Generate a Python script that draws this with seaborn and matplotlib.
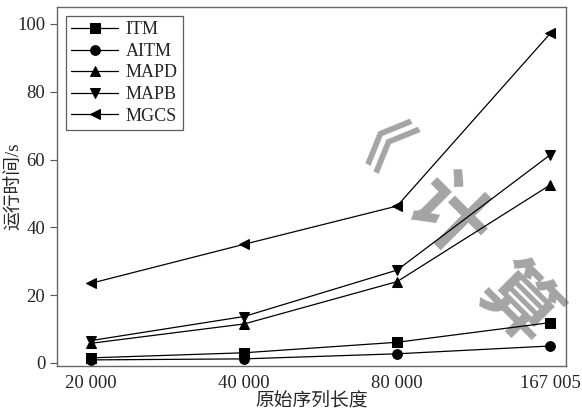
import matplotlib
matplotlib.use("Agg")
import matplotlib.pyplot as plt
import seaborn as sns
import pandas as pd

# sequence lengths (categorical x)
lengths = ["20 000", "40 000", "80 000", "167 005"]
methods = ["ITM", "AITM", "MAPD", "MAPB", "MGCS"]

# running time in seconds
itm = [1.5, 3.0, 6.1, 11.9]
aitm = [0.9, 1.2, 2.7, 5.0]
mapd = [5.8, 11.5, 24.0, 52.5]
mapb = [6.6, 13.7, 27.4, 61.4]
mgcs = [23.5, 35.0, 46.3, 97.2]

rows = []
for name, vals in zip(methods, [itm, aitm, mapd, mapb, mgcs]):
    for i, v in enumerate(vals):
        rows.append({"pos": i, "time": v, "method": name})
df = pd.DataFrame(rows)

sns.set_style("ticks")
plt.rcParams['font.family'] = ['Liberation Serif', 'Noto Sans CJK SC']

fig, ax = plt.subplots(figsize=(5.82, 4.13), dpi=100)
sns.lineplot(data=df, x="pos", y="time", hue="method", style="method",
             hue_order=methods, style_order=methods,
             palette=["black"] * 5, markers=["s", "o", "^", "v", "<"],
             dashes=False, markersize=7, linewidth=0.9,
             markeredgecolor="black", ax=ax)

ax.set_xlim(-0.222, 3.105)
ax.set_ylim(-1, 105)
ax.set_xticks(range(len(lengths)))
ax.set_xticklabels(lengths)
ax.set_yticks([0, 20, 40, 60, 80, 100])
ax.tick_params(axis="x", length=0, labelsize=13.5, pad=6)
ax.tick_params(axis="y", length=5, direction="out", labelsize=13.5, color="#555555")
for s in ax.spines.values():
    s.set_color("#666666")
    s.set_linewidth(1.0)

ax.set_xlabel("原始序列长度", fontsize=13.5, labelpad=1)
ax.set_ylabel("运行时间/s", fontsize=13.5)
ax.yaxis.set_label_coords(-0.066, 0.5)

leg = ax.legend(loc="upper left", fontsize=13, frameon=True, fancybox=False,
                handlelength=2.6, borderpad=0.3, labelspacing=0.25,
                handletextpad=0.4, borderaxespad=0.5)
leg.get_frame().set_edgecolor("#333333")
leg.get_frame().set_linewidth(0.9)

# watermark, one character at a time along the diagonal
wm = [("《", 0.60, 0.58, 48), ("计", 0.765, 0.415, 56), ("算", 0.905, 0.17, 54)]
for ch, wx, wy, fs in wm:
    ax.text(wx, wy, ch, transform=ax.transAxes, fontsize=fs,
            color="#a4a4a4", rotation=-45, ha="center", va="center",
            family=["Noto Sans CJK SC"], fontweight="bold", zorder=0)

plt.subplots_adjust(left=0.098, right=0.973, top=0.983, bottom=0.113)
plt.savefig("out.png", dpi=100)
